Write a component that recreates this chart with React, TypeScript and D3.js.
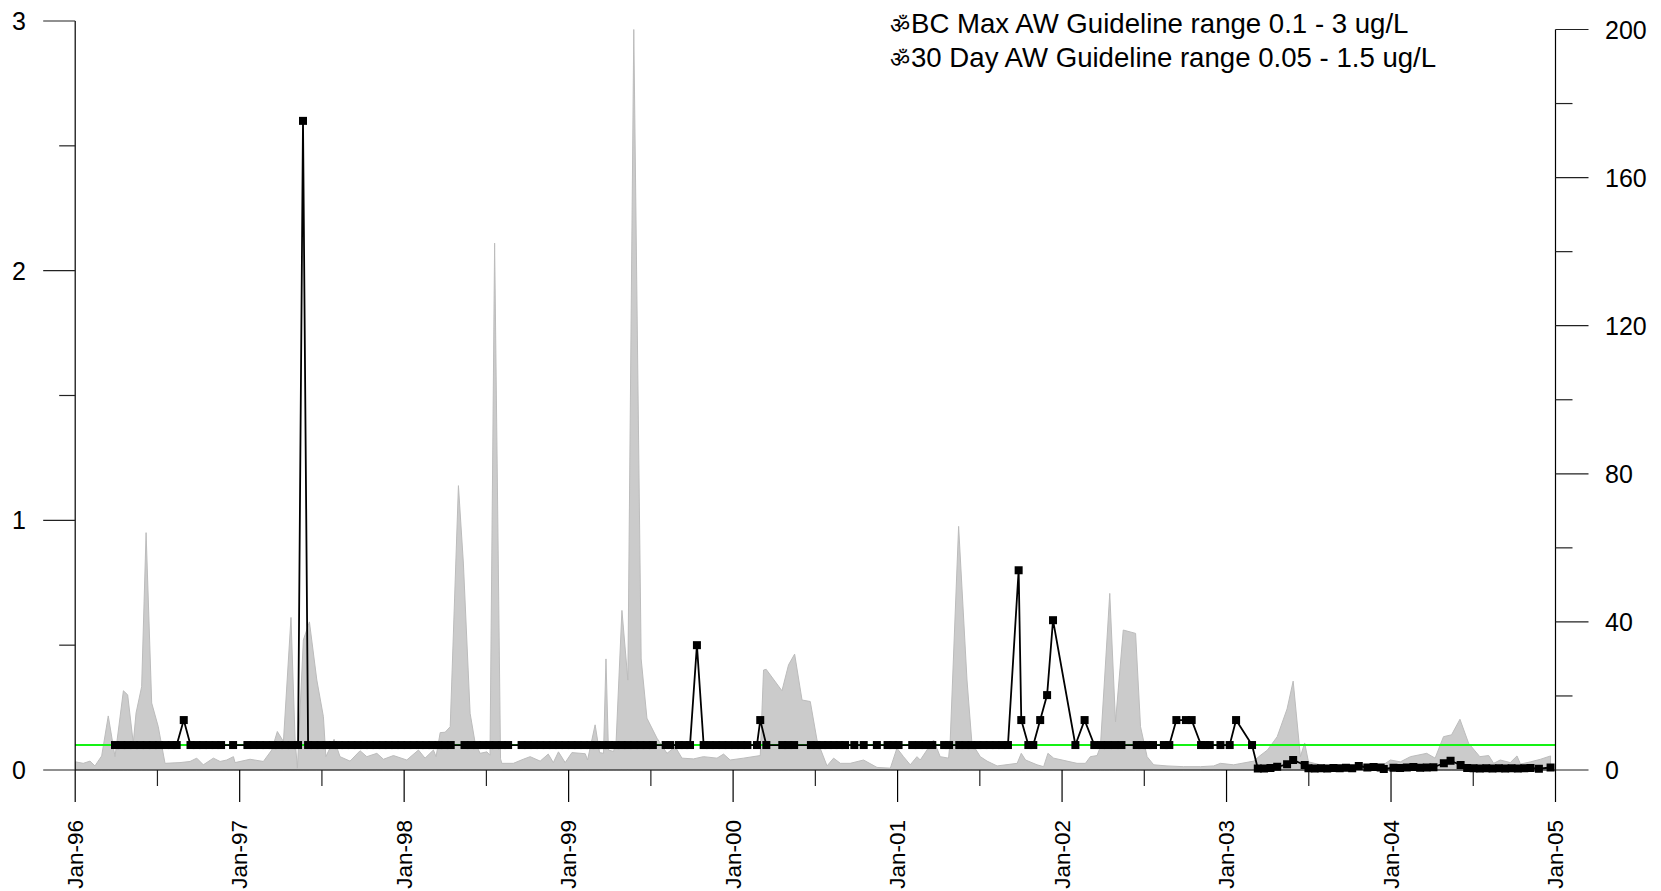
import React from 'react';
import * as d3 from 'd3';

const W = 1661;
const H = 891;

// ---- Concentration (left axis, ug/L); time in decimal years ----
const concT: number[] = [
  1996.242, 1996.280, 1996.319, 1996.357, 1996.395, 1996.434, 1996.472, 1996.510, 1996.549, 1996.587, 1996.617,
  1996.660,
  1996.701, 1996.739, 1996.777, 1996.816, 1996.854, 1996.887,
  1996.960,
  1997.047, 1997.085, 1997.124, 1997.162, 1997.201, 1997.239, 1997.277, 1997.316, 1997.355,
  1997.385,
  1997.416, 1997.454, 1997.491, 1997.529, 1997.567, 1997.605, 1997.642, 1997.680, 1997.718, 1997.756, 1997.793,
  1997.831, 1997.869, 1997.907, 1997.944, 1997.982,
  1998.020, 1998.058, 1998.095, 1998.133, 1998.171, 1998.209, 1998.246, 1998.283,
  1998.367, 1998.405, 1998.443, 1998.481, 1998.518, 1998.556, 1998.594, 1998.632,
  1998.714, 1998.752, 1998.790, 1998.828, 1998.866, 1998.904, 1998.942, 1998.980,
  1999.018, 1999.056, 1999.094, 1999.132, 1999.170, 1999.208, 1999.246, 1999.284, 1999.322, 1999.360, 1999.398,
  1999.436, 1999.474, 1999.512,
  1999.590, 1999.617,
  1999.670, 1999.704, 1999.738,
  1999.780,
  1999.821, 1999.859, 1999.897, 1999.935, 1999.973,
  2000.011, 2000.049, 2000.087,
  2000.145, 2000.165, 2000.202,
  2000.299, 2000.335, 2000.371,
  2000.473, 2000.508, 2000.543, 2000.577, 2000.612, 2000.647, 2000.681,
  2000.737, 2000.794, 2000.874,
  2000.939, 2000.973, 2001.006,
  2001.089, 2001.130, 2001.170, 2001.211,
  2001.283, 2001.313,
  2001.375, 2001.412, 2001.449, 2001.486, 2001.523, 2001.560, 2001.597, 2001.634, 2001.671,
  2001.736, 2001.752, 2001.795, 2001.825, 2001.867, 2001.909, 2001.945,
  2002.081, 2002.137,
  2002.196, 2002.237, 2002.278, 2002.320, 2002.361,
  2002.454, 2002.487, 2002.520, 2002.553,
  2002.619, 2002.652,
  2002.695, 2002.753, 2002.788,
  2002.845, 2002.871, 2002.898,
  2002.963, 2003.019, 2003.058, 2003.155,
  2003.190, 2003.228, 2003.267, 2003.308, 2003.368, 2003.405, 2003.475, 2003.498, 2003.536, 2003.574, 2003.612,
  2003.650, 2003.688, 2003.726, 2003.764, 2003.804, 2003.856, 2003.894, 2003.937, 2003.956,
  2004.015, 2004.055, 2004.096, 2004.136, 2004.177, 2004.217, 2004.258, 2004.321, 2004.362, 2004.423,
  2004.463, 2004.502, 2004.540, 2004.579, 2004.617, 2004.656, 2004.694, 2004.733, 2004.771, 2004.810, 2004.848,
  2004.899, 2004.970,
];
const concV: number[] = [
  0.1, 0.1, 0.1, 0.1, 0.1, 0.1, 0.1, 0.1, 0.1, 0.1, 0.1,
  0.2,
  0.1, 0.1, 0.1, 0.1, 0.1, 0.1,
  0.1,
  0.1, 0.1, 0.1, 0.1, 0.1, 0.1, 0.1, 0.1, 0.1,
  2.6,
  0.1, 0.1, 0.1, 0.1, 0.1, 0.1, 0.1, 0.1, 0.1, 0.1, 0.1,
  0.1, 0.1, 0.1, 0.1, 0.1,
  0.1, 0.1, 0.1, 0.1, 0.1, 0.1, 0.1, 0.1,
  0.1, 0.1, 0.1, 0.1, 0.1, 0.1, 0.1, 0.1,
  0.1, 0.1, 0.1, 0.1, 0.1, 0.1, 0.1, 0.1,
  0.1, 0.1, 0.1, 0.1, 0.1, 0.1, 0.1, 0.1, 0.1, 0.1, 0.1,
  0.1, 0.1, 0.1,
  0.1, 0.1,
  0.1, 0.1, 0.1,
  0.5,
  0.1, 0.1, 0.1, 0.1, 0.1,
  0.1, 0.1, 0.1,
  0.1, 0.2, 0.1,
  0.1, 0.1, 0.1,
  0.1, 0.1, 0.1, 0.1, 0.1, 0.1, 0.1,
  0.1, 0.1, 0.1,
  0.1, 0.1, 0.1,
  0.1, 0.1, 0.1, 0.1,
  0.1, 0.1,
  0.1, 0.1, 0.1, 0.1, 0.1, 0.1, 0.1, 0.1, 0.1,
  0.8, 0.2, 0.1, 0.1, 0.2, 0.3, 0.6,
  0.1, 0.2,
  0.1, 0.1, 0.1, 0.1, 0.1,
  0.1, 0.1, 0.1, 0.1,
  0.1, 0.1,
  0.2, 0.2, 0.2,
  0.1, 0.1, 0.1,
  0.1, 0.1, 0.2, 0.1,
  0.006, 0.006, 0.008, 0.013, 0.023, 0.04, 0.02, 0.007, 0.006, 0.007, 0.006,
  0.008, 0.007, 0.009, 0.007, 0.016, 0.01, 0.012, 0.01, 0.004,
  0.009, 0.008, 0.01, 0.012, 0.009, 0.01, 0.011, 0.027, 0.037, 0.02,
  0.008, 0.007, 0.006, 0.007, 0.006, 0.007, 0.006, 0.007, 0.006, 0.007, 0.008,
  0.005, 0.01,
];

// ---- Flow (right axis); time in decimal years ----
const flowT: number[] = [
  1996.002, 1996.049, 1996.090, 1996.120, 1996.161, 1996.201, 1996.242, 1996.293, 1996.319, 1996.353, 1996.370,
  1996.404, 1996.431, 1996.465, 1996.505, 1996.546, 1996.637, 1996.698, 1996.739, 1996.779, 1996.840, 1996.881,
  1996.921, 1996.962, 1996.972, 1997.063, 1997.144, 1997.195, 1997.229, 1997.266, 1997.312, 1997.337, 1997.351,
  1997.387, 1997.424, 1997.469, 1997.509, 1997.524, 1997.574, 1997.610, 1997.671, 1997.732, 1997.773, 1997.834,
  1997.874, 1997.935, 1998.016, 1998.087, 1998.127, 1998.178, 1998.194, 1998.219, 1998.249, 1998.280, 1998.330,
  1998.360, 1998.401, 1998.432, 1998.462, 1998.503, 1998.522, 1998.550, 1998.586, 1998.594,
  1998.664, 1998.724, 1998.766, 1998.827, 1998.876, 1998.907, 1998.938, 1998.979, 1999.020, 1999.101, 1999.115,
  1999.161, 1999.188, 1999.212, 1999.227, 1999.242, 1999.273, 1999.289, 1999.324, 1999.360, 1999.396, 1999.441,
  1999.476, 1999.537, 1999.598, 1999.648, 1999.689, 1999.759, 1999.820, 1999.902, 1999.942, 1999.982, 2000.063,
  2000.165, 2000.185, 2000.201, 2000.297, 2000.337, 2000.374, 2000.419, 2000.469, 2000.510, 2000.571, 2000.611,
  2000.652, 2000.712, 2000.793, 2000.875, 2000.956, 2000.996, 2001.036, 2001.077, 2001.118, 2001.138, 2001.219,
  2001.259, 2001.310, 2001.320, 2001.371, 2001.422, 2001.452, 2001.503, 2001.544, 2001.605, 2001.727, 2001.752,
  2001.778, 2001.848, 2001.888, 2001.914, 2001.949, 2002.030, 2002.091, 2002.142, 2002.172, 2002.213, 2002.233,
  2002.258, 2002.290, 2002.325, 2002.372, 2002.447, 2002.477, 2002.517, 2002.557, 2002.638, 2002.739, 2002.841,
  2002.922, 2002.963, 2003.043, 2003.165, 2003.196, 2003.249, 2003.308, 2003.368, 2003.405, 2003.449, 2003.475,
  2003.498, 2003.570, 2003.649, 2003.752, 2003.854, 2003.953, 2003.996, 2004.057, 2004.118, 2004.217, 2004.268,
  2004.319, 2004.368, 2004.419, 2004.472, 2004.540, 2004.594, 2004.624, 2004.664, 2004.725, 2004.766, 2004.787,
  2004.848, 2004.909, 2004.970,
];
const flowV: number[] = [
  2.2, 1.8, 2.4, 1.1, 3.8, 14.6, 3.6, 21.4, 20.3, 7.3, 15.4,
  22.5, 64.1, 18.1, 11.7, 1.8, 2.0, 2.3, 3.2, 1.4, 3.2, 2.3,
  2.7, 3.6, 2.0, 2.9, 2.3, 5.4, 10.4, 7.7, 41.2, 8.1, 0.5,
  35.1, 40.0, 24.3, 14.4, 3.6, 8.3, 3.6, 2.4, 5.2, 3.6, 4.5,
  2.9, 3.9, 2.7, 5.4, 3.2, 5.4, 3.6, 10.1, 10.2, 11.7, 76.8,
  55.9, 15.3, 7.2, 4.5, 4.9, 4.0, 142.3, 3.0, 1.8,
  1.8, 2.9, 3.6, 2.4, 4.3, 2.0, 4.9, 2.0, 4.7, 4.4, 2.7,
  12.2, 4.7, 4.5, 30.0, 5.4, 5.0, 8.0, 43.1, 24.3, 200, 30.0,
  14.0, 8.6, 4.5, 6.3, 3.2, 3.0, 3.6, 3.2, 4.3, 2.7, 3.2,
  3.9, 27.0, 27.2, 21.4, 28.4, 31.3, 18.9, 18.5, 8.1, 1.1, 3.2,
  1.8, 1.8, 2.7, 0.7, 0.5, 5.9, 3.6, 1.4, 3.6, 2.7, 8.1,
  3.6, 3.2, 8.1, 65.8, 24.3, 7.2, 3.6, 2.4, 1.1, 1.8, 4.5,
  2.7, 1.4, 0.9, 4.5, 3.2, 2.4, 1.8, 1.8, 3.6, 3.9, 6.3,
  24.3, 47.7, 13.0, 37.8, 36.9, 11.7, 3.6, 1.4, 1.1, 0.9, 0.9,
  1.1, 1.8, 1.4, 2.4, 3.6, 5.4, 9.0, 16.5, 24.0, 3.6, 7.3,
  2.2, 1.4, 1.1, 1.1, 1.4, 1.4, 2.7, 2.2, 3.6, 4.5, 3.2,
  9.0, 9.5, 13.7, 7.2, 3.6, 3.9, 1.8, 2.7, 2.0, 3.8, 1.6,
  2.2, 2.9, 3.8,
];

const guidelineValue = 0.1;
const leftTicks = [0, 1, 2, 3];
const leftMinorTicks = [0.5, 1.5, 2.5];
const rightTicks = [0, 40, 80, 120, 160, 200];
const rightMinorTicks = [20, 60, 100, 140, 180];
const yearTicks = [1996, 1997, 1998, 1999, 2000, 2001, 2002, 2003, 2004, 2005];
const yearLabels = ['Jan-96', 'Jan-97', 'Jan-98', 'Jan-99', 'Jan-00', 'Jan-01', 'Jan-02', 'Jan-03', 'Jan-04', 'Jan-05'];
const halfYearTicks = [1996.5, 1997.5, 1998.5, 1999.5, 2000.5, 2001.5, 2002.5, 2003.5, 2004.5];
const legendSymbol = 'ॐ';
const legendLines = ['BC Max AW Guideline range 0.1 - 3 ug/L', '30 Day AW Guideline range 0.05 - 1.5 ug/L'];

const FONT = "Arial, 'Liberation Sans', Helvetica, sans-serif";

export default function App() {
  const x = d3.scaleLinear().domain([1996, 2005]).range([75.2, 1555.5]);
  const yL = d3.scaleLinear().domain([0, 3]).range([770, 21]);
  const yR = d3.scaleLinear().domain([0, 200]).range([770, 29.5]);

  const flow = flowT.map((t, i) => [t, flowV[i]] as [number, number]);
  const conc = concT.map((t, i) => [t, concV[i]] as [number, number]);

  const areaPath = d3
    .area<[number, number]>()
    .x((d) => x(d[0]))
    .y0(yR(0))
    .y1((d) => yR(d[1]))(flow) as string;

  const linePath = d3
    .line<[number, number]>()
    .x((d) => x(d[0]))
    .y((d) => yL(d[1]))(conc) as string;

  const x0 = x(1996);
  const x1 = x(2005);
  const yBase = yL(0);
  const ms = 8;
  const tickStroke = '#222';

  return (
    <svg
      width={W}
      height={H}
      viewBox={`0 0 ${W} ${H}`}
      style={{ position: 'absolute', left: 0, top: 0, display: 'block', background: '#fff' }}
      fontFamily={FONT}
    >
      <rect x={0} y={0} width={W} height={H} fill="#fff" />
      {/* flow area */}
      <path d={areaPath} fill="#cbcbcb" stroke="#bcbcbc" strokeWidth={1} />

      {/* guideline */}
      <line x1={x0} x2={x1} y1={yL(guidelineValue)} y2={yL(guidelineValue)} stroke="#14f214" strokeWidth={2} />

      {/* axes */}
      <line x1={x0} x2={x0} y1={yL(3)} y2={yBase} stroke="#000" strokeWidth={1.2} />
      <line x1={x1} x2={x1} y1={yR(200)} y2={yBase} stroke="#000" strokeWidth={1.2} />
      <line x1={x0} x2={x1} y1={yBase} y2={yBase} stroke="#000" strokeWidth={1.2} />

      {leftTicks.map((v) => (
        <g key={'lt' + v}>
          <line x1={x0 - 32} x2={x0} y1={yL(v)} y2={yL(v)} stroke={tickStroke} strokeWidth={1.2} />
          <text x={26} y={yL(v)} fontSize={25} textAnchor="end" dominantBaseline="central" fill="#000">
            {v}
          </text>
        </g>
      ))}
      {leftMinorTicks.map((v) => (
        <line key={'lm' + v} x1={x0 - 16} x2={x0} y1={yL(v)} y2={yL(v)} stroke={tickStroke} strokeWidth={1.2} />
      ))}

      {rightTicks.map((v) => (
        <g key={'rt' + v}>
          <line x1={x1} x2={x1 + 33} y1={yR(v)} y2={yR(v)} stroke={tickStroke} strokeWidth={1.2} />
          <text x={1605} y={yR(v)} fontSize={25} textAnchor="start" dominantBaseline="central" fill="#000">
            {v}
          </text>
        </g>
      ))}
      {rightMinorTicks.map((v) => (
        <line key={'rm' + v} x1={x1} x2={x1 + 17} y1={yR(v)} y2={yR(v)} stroke={tickStroke} strokeWidth={1.2} />
      ))}

      {yearTicks.map((t, i) => (
        <g key={'yt' + t}>
          <line x1={x(t)} x2={x(t)} y1={yBase} y2={yBase + 32} stroke="#000" strokeWidth={1.2} />
          <text
            transform={`translate(${x(t)},820) rotate(-90)`}
            fontSize={22.5}
            textAnchor="end"
            dominantBaseline="central"
            fill="#000"
          >
            {yearLabels[i]}
          </text>
        </g>
      ))}
      {halfYearTicks.map((t) => (
        <line key={'ht' + t} x1={x(t)} x2={x(t)} y1={yBase} y2={yBase + 16} stroke={tickStroke} strokeWidth={1.2} />
      ))}

      {/* concentration line + markers */}
      <path d={linePath} fill="none" stroke="#000" strokeWidth={1.8} strokeLinejoin="round" />
      {conc.map((d, i) => (
        <rect key={'m' + i} x={x(d[0]) - ms / 2} y={yL(d[1]) - ms / 2} width={ms} height={ms} fill="#000" />
      ))}

      {/* legend text */}
      {legendLines.map((s, i) => (
        <g key={'lg' + i}>
          <text x={890} y={33 + i * 34} fontSize={22} fill="#000">
            {legendSymbol}
          </text>
          <text x={911} y={33 + i * 34} fontSize={27.6} fill="#000">
            {s}
          </text>
        </g>
      ))}
    </svg>
  );
}
